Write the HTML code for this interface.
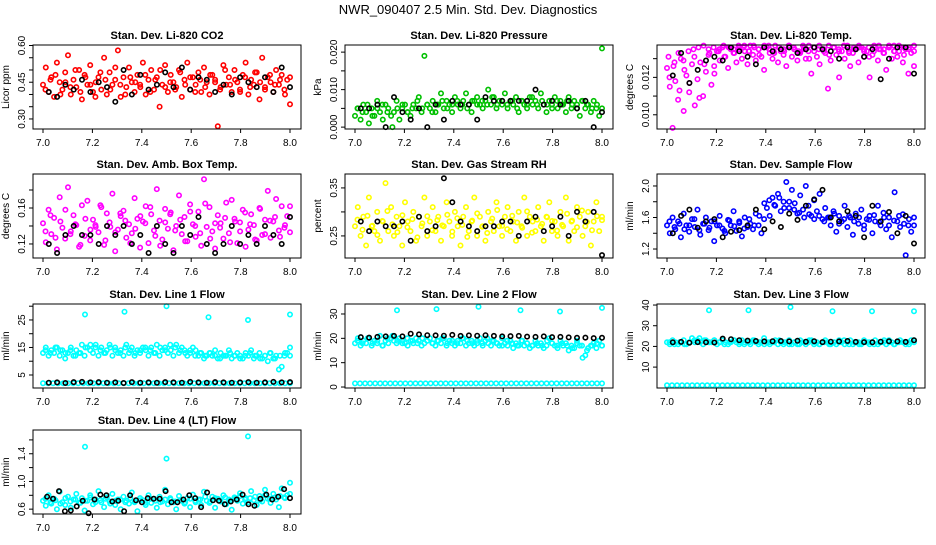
<!DOCTYPE html>
<html><head><meta charset="utf-8"><style>
html,body{margin:0;padding:0;background:#fff;}
svg text{font-family:"Liberation Sans",sans-serif;}
</style></head><body>
<svg id="chart" width="936" height="540" viewBox="0 0 936 540" xmlns="http://www.w3.org/2000/svg">
<rect width="936" height="540" fill="#fff"/>
<text x="468" y="14" text-anchor="middle" font-size="13">NWR_090407  2.5 Min. Std. Dev. Diagnostics</text>
</svg>
<script>
// ---- data ----
const xTicks = [7.0,7.2,7.4,7.6,7.8,8.0];
const xTickLabels = ["7.0","7.2","7.4","7.6","7.8","8.0"];
const outX = [7.17,7.33,7.5,7.67,7.83,8.0];

const co2Red = [0.44,0.51,0.41,0.47,0.39,0.53,0.45,0.42,0.49,0.56,0.40,0.46,0.43,0.50,0.38,0.48,0.44,0.52,0.41,0.45,0.47,0.42,0.55,0.40,0.49,0.44,0.46,0.58,0.39,0.47,0.43,0.51,0.45,0.41,0.48,0.44,0.53,0.40,0.46,0.50,0.42,0.47,0.35,0.44,0.52,0.41,0.48,0.45,0.43,0.50,0.39,0.46,0.53,0.42,0.47,0.44,0.49,0.41,0.51,0.45,0.40,0.48,0.46,0.27,0.43,0.52,0.44,0.47,0.41,0.50,0.45,0.42,0.48,0.53,0.40,0.46,0.44,0.49,0.38,0.55,0.43,0.47,0.45,0.41,0.50,0.44,0.48,0.42,0.46,0.36];
const co2Red2 = [0.42,0.46,0.48,0.40,0.45,0.43,0.50,0.41,0.47,0.44,0.39,0.49,0.46,0.42,0.51,0.44,0.40,0.47,0.45,0.43,0.48,0.41,0.46,0.50,0.43,0.45,0.42,0.49,0.44,0.47,0.41,0.46,0.43,0.48,0.45,0.42,0.50,0.44,0.46,0.41,0.47,0.43,0.49,0.45,0.42,0.48,0.44,0.46,0.40,0.47];
const co2Black = [0.41,0.39,0.44,0.42,0.46,0.41,0.45,0.43,0.37,0.50,0.40,0.48,0.42,0.44,0.49,0.43,0.51,0.42,0.47,0.46,0.41,0.44,0.40,0.47,0.45,0.43,0.47,0.41,0.51,0.43];

const presGreen = [0.003,0.005,0.002,0.006,0.004,0.001,0.005,0.003,0.007,0.004,0.002,0.006,0.005,0.003,0.004,0.007,0.002,0.005,0.006,0.004,0.003,0.006,0.005,0.008,0.004,0.019,0.006,0.005,0.007,0.004,0.006,0.009,0.005,0.007,0.006,0.004,0.008,0.006,0.005,0.007,0.009,0.006,0.004,0.007,0.008,0.006,0.005,0.007,0.010,0.006,0.008,0.005,0.007,0.006,0.009,0.005,0.007,0.006,0.008,0.004,0.007,0.006,0.005,0.008,0.006,0.007,0.005,0.009,0.006,0.004,0.007,0.006,0.008,0.005,0.007,0.006,0.004,0.008,0.005,0.007,0.006,0.003,0.007,0.005,0.006,0.004,0.007,0.005,0.003,0.021];
const presGreen2 = [0.005,0.004,0.006,0.003,0.005,0.006,0.004,0.000,0.005,0.006,0.004,0.005,0.007,0.005,0.006,0.004,0.006,0.007,0.005,0.006,0.007,0.006,0.005,0.007,0.006,0.007,0.006,0.008,0.006,0.007,0.006,0.007,0.005,0.007,0.006,0.008,0.006,0.007,0.006,0.005,0.007,0.006,0.007,0.006,0.005,0.007,0.006,0.005,0.006,0.005];
const presBlack = [0.005,0.005,0.006,0.000,0.008,0.004,0.002,0.005,0.000,0.006,0.002,0.007,0.006,0.006,0.002,0.008,0.007,0.007,0.007,0.007,0.007,0.010,0.006,0.007,0.006,0.007,0.005,0.007,0.000,0.004];

const tempMag = [0.0125,0.0115,0.0093,0.0118,0.0108,0.0130,0.0102,0.0121,0.0112,0.0127,0.0105,0.0119,0.0128,0.0110,0.0123,0.0132,0.0116,0.0126,0.0134,0.0129,0.0136,0.0131,0.0125,0.0135,0.0133,0.0128,0.0136,0.0130,0.0134,0.0127,0.0137,0.0132,0.0129,0.0135,0.0131,0.0124,0.0136,0.0133,0.0130,0.0137,0.0128,0.0134,0.0132,0.0126,0.0136,0.0131,0.0135,0.0129,0.0133,0.0137,0.0130,0.0134,0.0122,0.0136,0.0131,0.0127,0.0135,0.0133,0.0114,0.0129,0.0136,0.0132,0.0120,0.0134,0.0130,0.0137,0.0126,0.0133,0.0135,0.0128,0.0136,0.0131,0.0134,0.0120,0.0132,0.0136,0.0129,0.0135,0.0133,0.0124,0.0137,0.0130,0.0134,0.0131,0.0136,0.0128,0.0135,0.0122,0.0133,0.0126];
const tempMag2 = [0.0120,0.0128,0.0113,0.0124,0.0117,0.0131,0.0109,0.0127,0.0133,0.0122,0.0135,0.0131,0.0136,0.0133,0.0135,0.0137,0.0134,0.0136,0.0132,0.0137,0.0135,0.0133,0.0136,0.0134,0.0137,0.0135,0.0133,0.0136,0.0130,0.0134,0.0137,0.0135,0.0132,0.0136,0.0134,0.0137,0.0133,0.0135,0.0136,0.0134,0.0131,0.0137,0.0135,0.0133,0.0136,0.0134,0.0137,0.0132,0.0136,0.0134];
const tempMag3 = [0.0131,0.0126,0.0133,0.0129,0.0134,0.0135,0.0136,0.0137,0.0135,0.0136,0.0134,0.0137,0.0136,0.0135,0.0137,0.0136,0.0134,0.0137,0.0135,0.0136,0.0137,0.0134,0.0136,0.0135,0.0137,0.0136,0.0134,0.0135,0.0137,0.0136,0.0135,0.0134,0.0137,0.0136,0.0135,0.0137,0.0134,0.0136,0.0137,0.0135,0.0136,0.0134,0.0137,0.0135,0.0136,0.0137,0.0134,0.0136,0.0135,0.0137];
const tempBlack = [0.0121,0.0133,0.0117,0.0124,0.0129,0.0131,0.0129,0.0136,0.0134,0.0131,0.0127,0.0136,0.0134,0.0135,0.0136,0.0133,0.0135,0.0136,0.0135,0.0134,0.0130,0.0136,0.0135,0.0131,0.0135,0.0119,0.0130,0.0136,0.0136,0.0122];

const ambMag = [0.143,0.122,0.158,0.131,0.149,0.114,0.172,0.138,0.126,0.183,0.134,0.152,0.141,0.117,0.163,0.129,0.168,0.124,0.147,0.139,0.133,0.161,0.119,0.154,0.144,0.176,0.112,0.136,0.151,0.157,0.127,0.142,0.132,0.171,0.148,0.116,0.145,0.162,0.121,0.153,0.135,0.181,0.146,0.125,0.159,0.137,0.155,0.113,0.140,0.174,0.131,0.150,0.123,0.164,0.142,0.128,0.156,0.118,0.192,0.139,0.161,0.134,0.115,0.152,0.143,0.126,0.166,0.132,0.169,0.148,0.121,0.144,0.158,0.117,0.136,0.153,0.141,0.124,0.160,0.130,0.147,0.179,0.127,0.145,0.170,0.135,0.162,0.138,0.151,0.133];
const ambMag2 = [0.134,0.152,0.127,0.145,0.158,0.131,0.142,0.119,0.148,0.136,0.141,0.163,0.124,0.139,0.133,0.154,0.146,0.121,0.137,0.151,0.143,0.161,0.129,0.118,0.144,0.153,0.135,0.147,0.123,0.156,0.140,0.132,0.165,0.126,0.143,0.138,0.149,0.122,0.145,0.134,0.155,0.142,0.125,0.159,0.131,0.146,0.150,0.128,0.141,0.162];
const ambBlack = [0.12,0.11,0.13,0.14,0.13,0.13,0.12,0.14,0.13,0.14,0.12,0.13,0.11,0.14,0.12,0.11,0.14,0.13,0.15,0.12,0.11,0.12,0.14,0.12,0.13,0.12,0.14,0.13,0.12,0.15];

const rhYellow = [0.27,0.31,0.25,0.29,0.23,0.33,0.27,0.26,0.30,0.24,0.28,0.36,0.26,0.31,0.25,0.29,0.27,0.23,0.32,0.28,0.26,0.30,0.24,0.29,0.27,0.33,0.25,0.28,0.31,0.26,0.29,0.24,0.27,0.32,0.28,0.25,0.30,0.27,0.23,0.29,0.31,0.26,0.28,0.33,0.25,0.29,0.27,0.24,0.30,0.28,0.26,0.32,0.27,0.25,0.29,0.31,0.26,0.28,0.24,0.30,0.27,0.33,0.25,0.29,0.28,0.26,0.31,0.27,0.24,0.29,0.32,0.26,0.28,0.25,0.30,0.27,0.33,0.24,0.28,0.26,0.31,0.29,0.25,0.27,0.30,0.23,0.28,0.32,0.26,0.29];
const rhYellow2 = [0.284,0.263,0.292,0.271,0.252,0.281,0.302,0.274,0.258,0.293,0.268,0.285,0.247,0.276,0.291,0.262,0.283,0.272,0.294,0.259,0.287,0.273,0.248,0.282,0.297,0.269,0.256,0.286,0.304,0.271,0.264,0.292,0.278,0.267,0.301,0.257,0.284,0.275,0.289,0.281,0.261,0.273,0.296,0.282,0.268,0.303,0.279,0.262,0.291,0.283];
const rhBlack = [0.28,0.26,0.28,0.27,0.27,0.28,0.24,0.29,0.26,0.27,0.37,0.32,0.28,0.27,0.26,0.27,0.27,0.28,0.28,0.25,0.28,0.29,0.26,0.27,0.29,0.25,0.30,0.28,0.30,0.21];

const flowBlue = [1.5,1.4,1.6,1.45,1.55,1.35,1.65,1.5,1.42,1.58,1.48,1.7,1.38,1.52,1.6,1.44,1.55,1.3,1.5,1.62,1.46,1.4,1.57,1.5,1.68,1.43,1.55,1.36,1.6,1.48,1.52,1.45,1.65,1.5,1.4,1.58,1.72,1.62,1.85,1.75,1.9,1.68,1.8,2.05,1.72,1.95,1.78,1.65,1.88,1.7,2.0,1.75,1.62,1.82,1.68,1.9,1.58,1.72,1.6,1.5,1.68,1.42,1.62,1.55,1.75,1.48,1.6,1.38,1.65,1.52,1.7,1.45,1.58,1.62,1.4,1.55,1.75,1.5,1.66,1.45,1.6,1.35,1.92,1.55,1.48,1.64,1.12,1.5,1.42,1.6];
const flowBlue2 = [1.55,1.48,1.52,1.45,1.5,1.58,1.44,1.52,1.47,1.55,1.5,1.43,1.56,1.49,1.53,1.46,1.58,1.5,1.62,1.78,1.82,1.76,1.85,1.72,1.8,1.7,1.66,1.6,1.64,1.58,1.62,1.55,1.6,1.65,1.52,1.58,1.62,1.55,1.6,1.5,1.57,1.63,1.54,1.6,1.5,1.56,1.62,1.52,1.58,1.5];
const flowBlack = [1.4,1.62,1.7,1.47,1.55,1.58,1.35,1.42,1.44,1.5,1.7,1.45,1.55,1.48,1.65,1.57,1.75,1.83,1.95,1.6,1.55,1.68,1.62,1.35,1.75,1.55,1.67,1.4,1.62,1.27];

const l1Cyan = [13,15,12,14,13,15,12,14,11,13,15,12,14,13,16,12,15,14,13,16,12,15,13,14,16,12,15,13,14,12,16,13,15,12,14,13,15,14,12,15,13,16,12,14,15,13,14,12,16,13,15,14,12,13,15,14,12,13,11,12,13,12,14,11,13,12,12,14,11,12,13,12,11,13,12,14,11,12,13,11,12,10,13,11,12,7,8,12,13,15];
const l1Cyan2 = [14,13,15,14,13,14,12,13,15,16,15,14,13,15,14,13,15,14,13,14,15,14,13,15,14,16,15,14,13,14,12,13,12,13,12,11,12,13,12,11,12,13,12,11,12,13,11,12,13,12];
const l1Out = [27,28,30,26,25,27];
const l1Low = [2,2,2,2,2,2,2,2,2,2,2,2,2,2,2,2,2,2,2,2,2,2,2,2,2,2,2,2,2,2,2,2,2,2,2,2,2,2,2,2,2,2,2,2,2,2,2,2,2,2];
const l1Black = [2.2,2.3,2.1,2.4,2.5,2.3,2.4,2.2,2.3,2.1,2.4,2.2,2.3,2.2,2.4,2.3,2.2,2.5,2.3,2.2,2.4,2.3,2.2,2.3,2.4,2.2,2.3,2.5,2.3,2.4];

const l2Cyan = [18,20,17,19,18,20,17,19,18,21,17,19,18,20,19,18,20,19,18,17,19,18,20,19,17,18,19,20,18,17,19,18,20,17,19,18,17,19,18,20,17,18,19,17,18,20,17,19,18,17,19,18,17,20,18,17,19,16,18,17,19,17,18,16,17,19,17,18,16,17,20,18,17,16,19,17,18,15,17,16,19,17,12,13,16,17,18,16,19,17];
const l2Cyan2 = [19,18,20,18,19,17,20,21,19,18,20,19,18,20,19,18,19,20,18,19,18,20,19,18,19,18,20,19,18,17,19,18,17,19,18,17,18,17,19,18,17,18,17,16,18,17,15,17,18,17];
const l2Out = [31.5,32,33,31.5,31,32.5];
const l2Low = [1.5,1.5,1.5,1.5,1.5,1.5,1.5,1.5,1.5,1.5,1.5,1.5,1.5,1.5,1.5,1.5,1.5,1.5,1.5,1.5,1.5,1.5,1.5,1.5,1.5,1.5,1.5,1.5,1.5,1.5,1.5,1.5,1.5,1.5,1.5,1.5,1.5,1.5,1.5,1.5,1.5,1.5,1.5,1.5,1.5,1.5,1.5,1.5,1.5,1.5];
const l2Black = [20.5,20.3,20.6,20.8,21.0,20.8,21.9,21.6,21.3,21.2,21.1,21.4,21.0,21.2,21.1,21.3,21.0,20.8,20.9,21.0,20.7,20.6,20.8,20.5,20.6,20.4,20.2,20.3,20.1,20.2];

const l3Cyan = [22,21,23,22,21,22,23,21,22,24,22,23,22,21,23,22,22,23,21,22,23,22,21,22,23,22,21,23,22,22,21,23,22,21,22,24,22,21,22,23,21,22,21,22,23,21,22,21,23,22,21,22,23,21,22,21,22,23,22,21,22,21,23,22,21,22,23,21,22,22,21,23,22,21,22,23,21,22,22,21,23,22,21,22,23,22,21,22,23,22];
const l3Cyan2 = [22,21,22,21,22,23,24,23,22,23,22,21,22,23,22,21,22,23,22,21,22,22,23,22,21,22,21,22,23,22,21,22,21,22,22,23,21,22,21,22,22,21,22,23,22,21,22,22,21,23];
const l3Out = [37.5,37.5,39,37,37,37];
const l3Low = [1.2,1.2,1.2,1.2,1.2,1.2,1.2,1.2,1.2,1.2,1.2,1.2,1.2,1.2,1.2,1.2,1.2,1.2,1.2,1.2,1.2,1.2,1.2,1.2,1.2,1.2,1.2,1.2,1.2,1.2,1.2,1.2,1.2,1.2,1.2,1.2,1.2,1.2,1.2,1.2,1.2,1.2,1.2,1.2,1.2,1.2,1.2,1.2,1.2,1.2];
const l3Black = [22.0,22.2,21.8,22.1,22.0,21.9,23.8,23.5,23.0,22.8,22.6,22.4,22.5,22.6,22.4,22.7,22.3,22.5,22.1,22.3,22.4,22.6,22.2,22.1,22.0,22.3,22.5,22.4,22.2,23.0];

const l4Cyan = [0.72,0.65,0.80,0.68,0.75,0.60,0.85,0.70,0.66,0.78,0.62,0.74,0.82,0.69,0.76,0.58,0.72,0.80,0.67,0.74,0.86,0.70,0.63,0.77,0.71,0.82,0.66,0.74,0.60,0.78,0.72,0.68,0.84,0.70,0.57,0.76,0.73,0.66,0.80,0.69,0.75,0.62,0.78,0.71,0.88,0.67,0.74,0.70,0.60,0.79,0.72,0.68,0.76,0.63,0.81,0.70,0.74,0.66,0.85,0.72,0.69,0.78,0.62,0.75,0.71,0.80,0.67,0.74,0.59,0.77,0.72,0.83,0.68,0.76,0.70,0.86,0.73,0.66,0.79,0.71,0.88,0.75,0.69,0.82,0.74,0.63,0.90,0.77,0.80,0.98];
const l4Cyan2 = [0.75,0.70,0.73,0.68,0.76,0.71,0.74,0.69,0.72,0.77,0.70,0.73,0.75,0.68,0.72,0.74,0.70,0.76,0.71,0.73,0.69,0.75,0.72,0.70,0.74,0.76,0.71,0.73,0.70,0.75,0.72,0.74,0.78,0.71,0.76,0.73,0.77,0.72,0.75,0.79,0.74,0.76,0.78,0.73,0.80,0.75,0.77,0.79,0.76,0.82];
const l4Out = [1.50,1.33,1.65];
const l4OutX = [7.17,7.5,7.83];
const l4Black = [0.78,0.75,0.86,0.57,0.58,0.64,0.72,0.54,0.74,0.81,0.80,0.71,0.72,0.57,0.80,0.73,0.70,0.76,0.75,0.75,0.86,0.70,0.70,0.74,0.80,0.76,0.63,0.84,0.73,0.72,0.67,0.71,0.74,0.81,0.67,0.65,0.75,0.81,0.74,0.78,0.89,0.76];

const yTicks1=[0.30,0.35,0.40,0.45,0.50,0.55,0.60], yLab1=["0.30","","","0.45","","","0.60"];
const yTicks2=[0,0.005,0.010,0.015,0.020], yLab2=["0.000","","0.010","","0.020"];
const yTicks3=[0.010,0.011,0.012,0.013], yLab3=["0.010","","0.012",""];
const yTicks4=[0.12,0.14,0.16,0.18], yLab4=["0.12","","0.16",""];
const yTicks5=[0.25,0.30,0.35], yLab5=["0.25","","0.35"];
const yTicks6=[1.2,1.4,1.6,1.8,2.0], yLab6=["1.2","","1.6","","2.0"];
const yTicks7=[5,10,15,20,25,30], yLab7=["5","","15","","25",""];
const yTicks8=[0,10,20,30], yLab8=["0","10","20","30"];
const yTicks9=[10,20,30,40], yLab9=["10","20","30","40"];
const yTicks10=[0.6,0.8,1.0,1.2,1.4,1.6], yLab10=["0.6","","1.0","","1.4",""];

// ---- layout / drawing ----
const NS="http://www.w3.org/2000/svg";
const svg=document.getElementById('chart');
function mk(tag,attrs,parent){const e=document.createElementNS(NS,tag);for(const k in attrs)e.setAttribute(k,attrs[k]);(parent||svg).appendChild(e);return e;}
const colX=[43,355,667], rowTop=[45,174,304,430];
const XW=247, BH=84;

function panel(id,col,row,title,ylabel,ylim,ticks,labs,series){
  const x0=colX[col], left=x0-10, right=x0+XW+11, top=rowTop[row], bot=top+BH;
  const g=mk('g',{});
  
  
  const sx=v=>x0+(v-7)*XW;
  const sy=v=>bot-(v-ylim[0])/(ylim[1]-ylim[0])*BH;
  const t=mk('text',{x:(left+right)/2,y:top-6,'text-anchor':'middle','font-size':11,'font-weight':'bold'},g);
  t.textContent=title;
  
  
  const yl=mk('text',{transform:`translate(${left-24},${(top+bot)/2}) rotate(-90)`,'text-anchor':'middle','font-size':10},g);
  yl.textContent=ylabel;
  
  
  series.forEach(s=>{
    const sg=mk('g',{fill:'none',stroke:s.c,'stroke-width':1.6},g);
    
    
    const n=s.v.length;
    s.v.forEach((v,i)=>{
      const xv=s.x?s.x[i]:7+(s.off||0)/n+i*(1-(s.off||0)/n)/(n-1);
      const c=mk('circle',{cx:sx(xv).toFixed(1),cy:sy(v).toFixed(1),r:2.2},sg);
      
      
    });
  });
  const box=mk('rect',{x:left,y:top,width:right-left,height:BH,fill:'none',stroke:'#000','stroke-width':1},g);
  
  
  xTicks.forEach((v,i)=>{
    mk('line',{x1:sx(v),x2:sx(v),y1:bot,y2:bot+4,stroke:'#000'},g);
    const tl=mk('text',{x:sx(v),y:bot+17,'text-anchor':'middle','font-size':10},g);
    tl.textContent=xTickLabels[i];
    
    
  });
  mk('line',{x1:left,x2:left,y1:sy(ticks[0]),y2:sy(ticks[ticks.length-1]),stroke:'#000'},g);
  ticks.forEach((v,i)=>{
    const y=sy(v);
    mk('line',{x1:left-4,x2:left,y1:y,y2:y,stroke:'#000'},g);
    if(labs[i]){
      const tl=mk('text',{transform:`translate(${left-8},${y}) rotate(-90)`,'text-anchor':'middle','font-size':10},g);
      tl.textContent=labs[i];
      
      
    }
  });
}
const B='#000';
panel('co2',0,0,'Stan. Dev. Li-820 CO2','Licor ppm',[0.259,0.602],yTicks1,yLab1,[{n:'red',c:'#ff0000',v:co2Red},{n:'red2',c:'#ff0000',v:co2Red2,off:0.5},{n:'black',c:B,v:co2Black,off:0.7}]);
panel('pressure',1,0,'Stan. Dev. Li-820 Pressure','kPa',[-0.0005,0.0219],yTicks2,yLab2,[{n:'green',c:'#00c000',v:presGreen},{n:'green2',c:'#00c000',v:presGreen2,off:0.5},{n:'black',c:B,v:presBlack,off:0.7}]);
panel('temp',2,0,'Stan. Dev. Li-820 Temp.','degrees C',[0.00924,0.01373],yTicks3,yLab3,[{n:'magenta',c:'#ff00ff',v:tempMag},{n:'magenta2',c:'#ff00ff',v:tempMag2,off:0.5},{n:'magenta3',c:'#ff00ff',v:tempMag3,off:0.3},{n:'black',c:B,v:tempBlack,off:0.7}]);
panel('amb',0,1,'Stan. Dev. Amb. Box Temp.','degrees C',[0.1044,0.1978],yTicks4,yLab4,[{n:'magenta',c:'#ff00ff',v:ambMag},{n:'magenta2',c:'#ff00ff',v:ambMag2,off:0.5},{n:'black',c:B,v:ambBlack,off:0.7}]);
panel('rh',1,1,'Stan. Dev. Gas Stream RH','percent',[0.204,0.379],yTicks5,yLab5,[{n:'yellow',c:'#ffff00',v:rhYellow},{n:'yellow2',c:'#ffff00',v:rhYellow2,off:0.5},{n:'black',c:B,v:rhBlack,off:0.7}]);
panel('flow',2,1,'Stan. Dev. Sample Flow','ml/min',[1.086,2.152],yTicks6,yLab6,[{n:'blue',c:'#0000ff',v:flowBlue},{n:'blue2',c:'#0000ff',v:flowBlue2,off:0.5},{n:'black',c:B,v:flowBlack,off:0.7}]);
panel('line1',0,2,'Stan. Dev. Line 1 Flow','ml/min',[0.27,30.8],yTicks7,yLab7,[{n:'cyan',c:'#00ffff',v:l1Cyan},{n:'cyan2',c:'#00ffff',v:l1Cyan2,off:0.5},{n:'cyan-low',c:'#00ffff',v:l1Low},{n:'cyan-out',c:'#00ffff',v:l1Out,x:outX},{n:'black',c:B,v:l1Black,off:0.7}]);
panel('line2',1,2,'Stan. Dev. Line 2 Flow','ml/min',[-0.4,34.1],yTicks8,yLab8,[{n:'cyan',c:'#00ffff',v:l2Cyan},{n:'cyan2',c:'#00ffff',v:l2Cyan2,off:0.5},{n:'cyan-low',c:'#00ffff',v:l2Low},{n:'cyan-out',c:'#00ffff',v:l2Out,x:outX},{n:'black',c:B,v:l2Black,off:0.7}]);
panel('line3',2,2,'Stan. Dev. Line 3 Flow','ml/min',[-0.1,40.5],yTicks9,yLab9,[{n:'cyan',c:'#00ffff',v:l3Cyan},{n:'cyan2',c:'#00ffff',v:l3Cyan2,off:0.5},{n:'cyan-low',c:'#00ffff',v:l3Low},{n:'cyan-out',c:'#00ffff',v:l3Out,x:outX},{n:'black',c:B,v:l3Black,off:0.7}]);
panel('line4',0,3,'Stan. Dev. Line 4 (LT) Flow','ml/min',[0.53,1.743],yTicks10,yLab10,[{n:'cyan',c:'#00ffff',v:l4Cyan},{n:'cyan2',c:'#00ffff',v:l4Cyan2,off:0.5},{n:'cyan-out',c:'#00ffff',v:l4Out,x:l4OutX},{n:'black',c:B,v:l4Black,off:0.7}]);
</script>
</body></html>
